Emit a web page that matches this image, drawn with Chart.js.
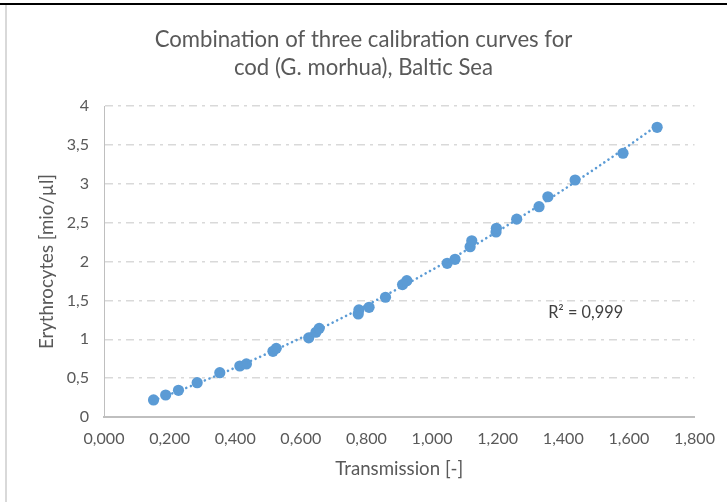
<!DOCTYPE html>
<html>
<head>
<meta charset="utf-8">
<script src="https://cdn.jsdelivr.net/npm/chart.js@4/dist/chart.umd.min.js"></script>
<style>
  html, body { margin: 0; padding: 0; background: #ffffff; }
  #wrap { width: 727px; height: 502px; }
  canvas { display: block; }
</style>
</head>
<body>
<div id="wrap"><canvas id="c" width="727" height="502"></canvas></div>
<script>
// ---- data ----
const titleLines = ["Combination of three calibration curves for", "cod (G. morhua), Baltic Sea"];
const xAxisTitle = "Transmission [-]";
const yAxisTitle = "Erythrocytes [mio/µl]";
const r2Label = "R² = 0,999";
const transmission = [0.151, 0.188, 0.227, 0.284, 0.353, 0.414, 0.434, 0.515, 0.525, 0.624,
  0.646, 0.656, 0.775, 0.777, 0.808, 0.858, 0.910, 0.923, 1.046, 1.070,
  1.116, 1.121, 1.195, 1.196, 1.258, 1.326, 1.353, 1.436, 1.582, 1.686];
const erythrocytes = [0.219, 0.283, 0.343, 0.441, 0.570, 0.656, 0.682, 0.845, 0.883, 1.018,
  1.090, 1.140, 1.325, 1.378, 1.411, 1.540, 1.703, 1.753, 1.977, 2.028,
  2.190, 2.266, 2.380, 2.427, 2.545, 2.705, 2.833, 3.048, 3.392, 3.726];
const xTicks = [0, 0.2, 0.4, 0.6, 0.8, 1.0, 1.2, 1.4, 1.6, 1.8];
const yTicks = [0, 0.5, 1, 1.5, 2, 2.5, 3, 3.5, 4];

// ---- styling helpers ----
const FAMILY = "Lato, 'Open Sans', sans-serif";
const TEXT = '#595959';
const BLUE = '#5b9bd5';
function fitSize(text, target) {
  const c = document.createElement('canvas').getContext('2d');
  c.font = 'normal 100px ' + FAMILY;
  return 100 * target / c.measureText(text).width;
}
const titleSize = fitSize(titleLines[0], 418);
const tickSize = fitSize('0,000', 41);
const axisTitleSize = fitSize(xAxisTitle, 128);
const r2Size = fitSize(r2Label, 75);

// quadratic least-squares trendline (Excel polynomial order 2)
function polyFit2(xs, ys) {
  let s = [0,0,0,0,0], t = [0,0,0];
  for (let i = 0; i < xs.length; i++) {
    const x = xs[i], y = ys[i];
    for (let k = 0; k < 5; k++) s[k] += Math.pow(x, k);
    for (let k = 0; k < 3; k++) t[k] += y * Math.pow(x, k);
  }
  const A = [[s[0], s[1], s[2], t[0]], [s[1], s[2], s[3], t[1]], [s[2], s[3], s[4], t[2]]];
  for (let i = 0; i < 3; i++) {
    for (let j = i + 1; j < 3; j++) {
      const f = A[j][i] / A[i][i];
      for (let k = i; k < 4; k++) A[j][k] -= f * A[i][k];
    }
  }
  const c = [0,0,0];
  for (let i = 2; i >= 0; i--) {
    let v = A[i][3];
    for (let k = i + 1; k < 3; k++) v -= A[i][k] * c[k];
    c[i] = v / A[i][i];
  }
  return c;
}
const coef = polyFit2(transmission, erythrocytes);
const xMin = Math.min(...transmission), xMax = Math.max(...transmission);
const trend = [];
for (let i = 0; i <= 80; i++) {
  const x = xMin + (xMax - xMin) * i / 80;
  trend.push({x: x, y: coef[0] + coef[1] * x + coef[2] * x * x});
}

const points = transmission.map((x, i) => ({x: x, y: erythrocytes[i]}));

const decor = {
  id: 'decor',
  beforeDraw(chart) {
    const ctx = chart.ctx;
    ctx.save();
    ctx.fillStyle = '#ffffff';
    ctx.fillRect(0, 0, chart.width, chart.height);
    ctx.fillStyle = '#000000';
    ctx.fillRect(0, 3, chart.width, 2);
    ctx.fillStyle = '#d9d9d9';
    ctx.fillRect(5, 5, 2, chart.height - 5);
    ctx.restore();
  },
  afterDatasetsDraw(chart) {
    const ctx = chart.ctx;
    const xs = chart.scales.x, ys = chart.scales.y;
    ctx.save();
    ctx.fillStyle = '#404040';
    ctx.font = 'normal ' + r2Size + 'px ' + FAMILY;
    ctx.textAlign = 'center';
    ctx.textBaseline = 'middle';
    ctx.fillText(r2Label, xs.getPixelForValue(1.468), ys.getPixelForValue(1.338));
    ctx.restore();
  }
};

new Chart(document.getElementById('c'), {
  type: 'scatter',
  data: {
    datasets: [
      {
        label: 'Trend',
        data: trend,
        showLine: true,
        borderColor: BLUE,
        borderWidth: 2.6,
        borderDash: [0.01, 5],
        borderCapStyle: 'round',
        pointRadius: 0,
        pointHoverRadius: 0,
        order: 0
      },
      {
        label: 'Calibration',
        data: points,
        backgroundColor: BLUE,
        borderColor: BLUE,
        borderWidth: 0,
        pointRadius: 5.6,
        order: 1
      }
    ]
  },
  options: {
    responsive: false,
    animation: false,
    devicePixelRatio: 1,
    layout: { padding: { left: 29, right: 29, top: 0, bottom: 0 } },
    plugins: {
      legend: { display: false },
      tooltip: { enabled: false },
      title: {
        display: true,
        text: titleLines,
        color: TEXT,
        font: { family: FAMILY, size: titleSize, weight: 'normal', lineHeight: (28 / titleSize) },
        padding: { top: 26, bottom: 24 }
      }
    },
    scales: {
      x: {
        type: 'linear',
        min: 0, max: 1.8,
        afterBuildTicks: (s) => { s.ticks = xTicks.map(v => ({value: v})); },
        afterFit: (s) => { s.height = 85; },
        grid: { display: false, drawTicks: false },
        border: { display: true, color: '#bfbfbf', width: 2 },
        ticks: {
          color: TEXT,
          font: { family: FAMILY, size: tickSize },
          padding: 12,
          maxRotation: 0,
          callback: (v) => Number(v).toFixed(3).replace('.', ',')
        },
        title: {
          display: true,
          text: xAxisTitle,
          color: TEXT,
          font: { family: FAMILY, size: axisTitleSize },
          padding: { top: 0, bottom: 22 }
        }
      },
      y: {
        type: 'linear',
        min: 0, max: 4,
        afterBuildTicks: (s) => { s.ticks = yTicks.map(v => ({value: v})); },
        afterFit: (s) => { s.width = 75; },
        grid: {
          drawTicks: false,
          color: (c) => (c.tick && c.tick.value === 0) ? 'rgba(0,0,0,0)' : '#d9d9d9',
          lineWidth: 1.4
        },
        border: { display: true, color: '#bfbfbf', width: 1, dash: [8, 5, 3, 5] },
        ticks: {
          color: TEXT,
          font: { family: FAMILY, size: tickSize },
          padding: 15,
          callback: (v) => String(v).replace('.', ',')
        },
        title: {
          display: true,
          text: yAxisTitle,
          color: TEXT,
          font: { family: FAMILY, size: axisTitleSize },
          padding: { top: 7, bottom: 0 }
        }
      }
    }
  },
  plugins: [decor]
});
</script>
</body>
</html>
